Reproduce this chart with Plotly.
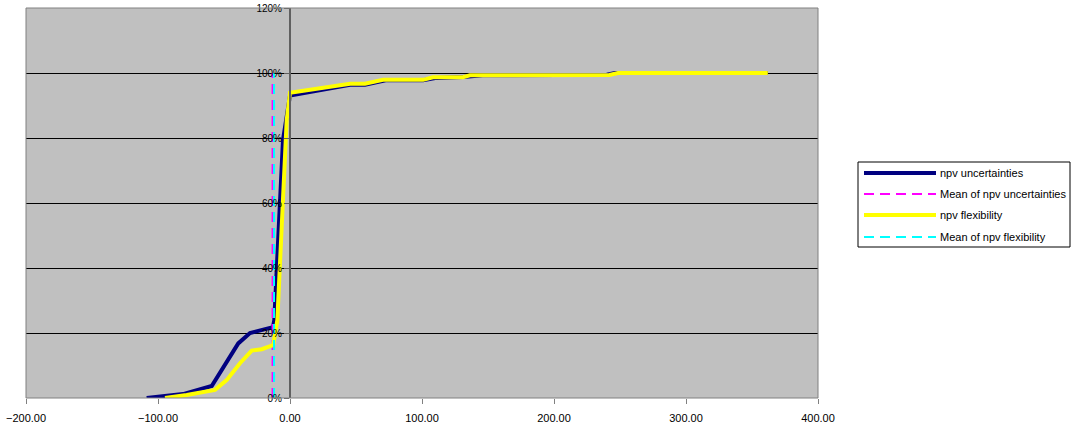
import plotly.graph_objects as go

# ---- data ----
npv_unc_x = [-108.6, -96.2, -81.0, -59.3, -39.2, -30.3, -12.9, -11.9, -5.3, 0.0, 15.2,
             45.5, 56.8, 73.3, 100.8, 111.0, 131.0, 146.0, 240.0, 246.0, 362.0]
npv_unc_y = [0.0, 0.005, 0.012, 0.037, 0.168, 0.200, 0.218, 0.240, 0.794, 0.931, 0.941,
             0.964, 0.964, 0.978, 0.978, 0.985, 0.988, 0.993, 0.995, 1.0, 1.0]

npv_flex_x = [-94.7, -78.3, -56.8, -48.0, -37.9, -29.0, -21.4, -12.7, -9.6, -2.5, 0.0,
              45.5, 56.8, 70.5, 100.8, 108.3, 131.0, 136.4, 242.0, 248.5, 362.0]
npv_flex_y = [0.0, 0.009, 0.025, 0.055, 0.107, 0.146, 0.150, 0.163, 0.240, 0.855, 0.939,
              0.967, 0.967, 0.979, 0.979, 0.987, 0.987, 0.993, 0.994, 1.0, 1.0]

mean_unc = -13.2
mean_flex = -12.1
mean_y = [0.0, 1.0]

x_ticks = [-200, -100, 0, 100, 200, 300, 400]
y_ticks = [0, 0.2, 0.4, 0.6, 0.8, 1.0, 1.2]

names = ["npv uncertainties", "Mean of npv uncertainties",
         "npv flexibility", "Mean of npv flexibility"]
colors = ["#000080", "#FF00FF", "#FFFF00", "#00FFFF"]
widths = [4, 2, 4, 2]
dashes = ["solid", "10px,6px", "solid", "10px,6px"]

FONT = "Liberation Sans, Arial, sans-serif"

# plot-area geometry in pixels
W, H = 1072, 425
L, R, T, B = 26, 254, 8, 27
PW, PH = W - L - R, H - T - B


def px_x(px):
    return (px - L) / PW


def px_y(py):
    return (H - B - py) / PH


series = [(npv_unc_x, npv_unc_y), ([mean_unc, mean_unc], mean_y),
          (npv_flex_x, npv_flex_y), ([mean_flex, mean_flex], mean_y)]

fig = go.Figure()
for (xs, ys), nm, c, w, d in zip(series, names, colors, widths, dashes):
    fig.add_trace(go.Scatter(x=xs, y=ys, mode="lines", name=nm,
                             line=dict(color=c, width=w, dash=d)))

shapes = [dict(type="rect", xref="paper", yref="paper", x0=0, x1=1, y0=0, y1=1,
               line=dict(color="#808080", width=1), layer="above")]
annotations = []

# legend box drawn in the right margin
shapes.append(dict(type="rect", xref="paper", yref="paper",
                   x0=px_x(858), x1=px_x(1070), y0=px_y(247), y1=px_y(162),
                   line=dict(color="black", width=1), fillcolor="white", layer="above"))
rows = [173, 194, 215, 237]
for nm, c, w, d, ry in zip(names, colors, widths, dashes, rows):
    shapes.append(dict(type="line", xref="paper", yref="paper",
                       x0=px_x(864), x1=px_x(936), y0=px_y(ry), y1=px_y(ry),
                       line=dict(color=c, width=w, dash=d), layer="above"))
    annotations.append(dict(xref="paper", yref="paper", x=px_x(938), y=px_y(ry),
                            xanchor="left", yanchor="middle", showarrow=False,
                            text=nm, font=dict(family=FONT, size=11, color="black")))

fig.update_layout(
    width=W, height=H,
    margin=dict(l=L, r=R, t=T, b=B, autoexpand=False),
    paper_bgcolor="white",
    plot_bgcolor="#C0C0C0",
    font=dict(family=FONT, size=10, color="black"),
    showlegend=False,
    xaxis=dict(range=[-200, 400], tickvals=x_ticks, tickformat=".2f",
               ticks="outside", ticklen=5, tickcolor="#808080",
               ticklabelstandoff=5,
               showgrid=False, zeroline=False, showline=False, automargin=False,
               tickfont=dict(size=11)),
    yaxis=dict(range=[0, 1.2], tickvals=y_ticks, tickformat=".0%",
               anchor="free", position=1/3, side="left",
               ticks="outside", ticklen=5, tickcolor="#606060",
               showline=True, linecolor="#606060", linewidth=2,
               showgrid=True, gridcolor="black", gridwidth=1,
               zeroline=False, automargin=False, tickfont=dict(size=10)),
    shapes=shapes,
    annotations=annotations,
)

fig.write_html("out.html", config={"displayModeBar": False},
               post_script="document.body.style.margin='0';document.body.style.padding='0';")
